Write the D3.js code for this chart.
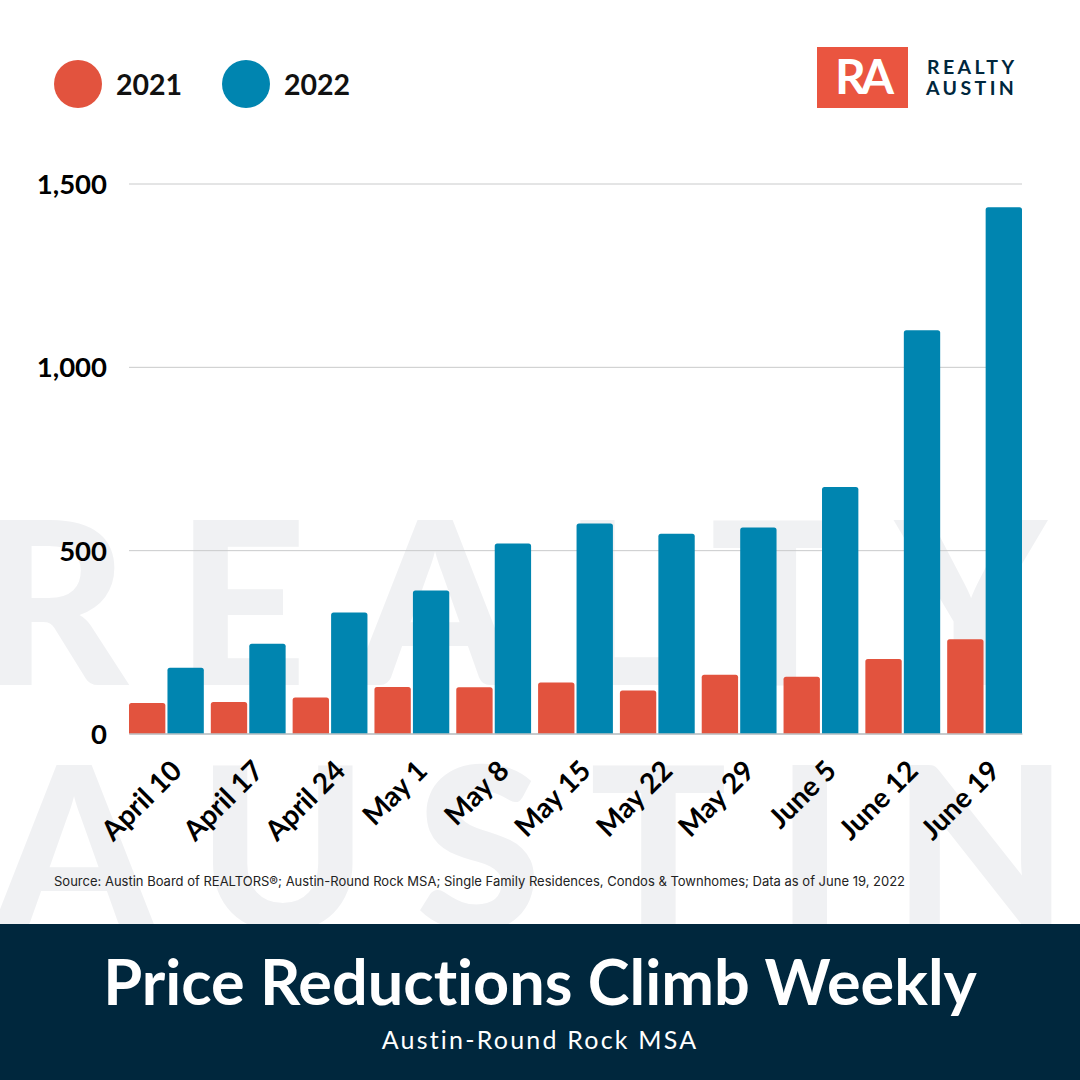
<!DOCTYPE html>
<html>
<head>
<meta charset="utf-8">
<script src="https://d3js.org/d3.v7.min.js"></script>
<style>
  html, body { margin: 0; padding: 0; background: #fff; }
  svg { display: block; }
  text { font-variant-ligatures: none; }
</style>
</head>
<body>
<svg id="chart" width="1080" height="1080"></svg>
<script>
// Data
const weeks = ["April 10", "April 17", "April 24", "May 1", "May 8", "May 15", "May 22", "May 29", "June 5", "June 12", "June 19"];
const years = ["2021", "2022"];
const values2021 = [83, 86, 98, 127, 126, 139, 117, 160, 155, 203, 257];
const values2022 = [179, 245, 330, 390, 518, 573, 545, 562, 672, 1100, 1435];
const yTicks = [0, 500, 1000, 1500];

const RED = "#e2533e";
const BLUE = "#0085b0";
const NAVY = "#00273d";
const WATERMARK = "#f0f1f3";
const colors = [RED, BLUE];

const svg = d3.select("#chart");

////// WATERMARK ///////////
const watermark = svg.append("g")
  .attr("font-family", "Lato")
  .attr("font-size", 228)
  .attr("font-weight", 900)
  .attr("fill", WATERMARK);

watermark.append("text").attr("x", -20).attr("y", 685)
  .attr("letter-spacing", 48).text("REALTY");
watermark.append("text").attr("x", -6).attr("y", 930)
  .attr("letter-spacing", 48).text("AUSTIN");

////// SCALES ///////////
const x = d3.scaleBand().domain(weeks).range([129, 1022]).paddingInner(0.0856);
const xInner = d3.scaleBand().domain(years).range([0, x.bandwidth()]).paddingInner(0.055);
const y = d3.scaleLinear().domain([0, 1500]).range([733.5, 183.5]);

////// Y AXIS + GRID ///////////
const yAxis = svg.append("g")
  .attr("transform", "translate(129,0)")
  .call(d3.axisLeft(y).tickValues(yTicks).tickFormat(d3.format(",")).tickSize(-893).tickPadding(22));
yAxis.select(".domain").remove();
yAxis.selectAll("line").attr("stroke", "#c9cacb").attr("stroke-width", 1);
yAxis.selectAll("text")
  .attr("font-family", "Lato")
  .attr("font-size", 27.5)
  .attr("font-weight", 700)
  .attr("fill", "#000")
  .attr("dy", "0.36em");

////// BARS ///////////
const groups = svg.append("g").selectAll("g")
  .data(weeks)
  .join("g")
  .attr("transform", (d) => `translate(${x(d)},0)`);

[values2021, values2022].forEach((series, s) => {
  groups.append("path")
    .attr("fill", colors[s])
    .attr("d", (d, i) => {
      const x0 = xInner(years[s]);
      const x1 = x0 + xInner.bandwidth();
      const top = y(series[i]);
      const base = y(0);
      const r = 2.5;
      return `M${x0},${base}V${top + r}Q${x0},${top} ${x0 + r},${top}H${x1 - r}Q${x1},${top} ${x1},${top + r}V${base}Z`;
    });
});

////// X AXIS ///////////
const xAxis = svg.append("g")
  .attr("transform", `translate(0,${y(0)})`)
  .call(d3.axisBottom(x).tickSize(0).tickPadding(0));
xAxis.select(".domain").attr("stroke", "#a9b0b5").attr("stroke-width", 1);
xAxis.selectAll("text")
  .attr("font-family", "Lato")
  .attr("font-size", 28)
  .attr("font-weight", 700)
  .attr("fill", "#000")
  .attr("text-anchor", "end")
  .attr("dy", 0)
  .attr("transform", "translate(17,39) rotate(-45)");

////// LEGEND ///////////
const legend = svg.append("g").selectAll("g")
  .data(years)
  .join("g")
  .attr("transform", (d, i) => `translate(${78 + i * 168},84)`);
legend.append("circle").attr("r", 24).attr("fill", (d, i) => colors[i]);
legend.append("text")
  .attr("x", 38)
  .attr("y", 11)
  .attr("font-family", "Lato")
  .attr("font-size", 28.5)
  .attr("font-weight", 700)
  .attr("fill", "#111")
  .text((d) => d);

////// LOGO ///////////
svg.append("rect").attr("x", 817).attr("y", 47).attr("width", 91).attr("height", 61).attr("fill", "#ea5540");
svg.append("text")
  .attr("x", 862).attr("y", 94)
  .attr("text-anchor", "middle")
  .attr("font-family", "Lato")
  .attr("font-size", 48)
  .attr("font-weight", 700)
  .attr("letter-spacing", -5)
  .attr("fill", "#fff")
  .text("RA");
const logoText = svg.append("g")
  .attr("font-family", "Lato")
  .attr("font-size", 19.5)
  .attr("font-weight", 700)
  .attr("letter-spacing", 3.4)
  .attr("fill", NAVY);
logoText.append("text").attr("x", 927).attr("y", 74).text("REALTY");
logoText.append("text").attr("x", 926).attr("y", 95).text("AUSTIN");

////// SOURCE ///////////
svg.append("text")
  .attr("x", 54).attr("y", 886)
  .attr("font-family", "Inter")
  .attr("font-size", 13)
  .attr("fill", "#222")
  .text("Source: Austin Board of REALTORS®; Austin-Round Rock MSA; Single Family Residences, Condos & Townhomes; Data as of June 19, 2022");

////// TITLE BAND ///////////
svg.append("rect").attr("x", 0).attr("y", 924).attr("width", 1080).attr("height", 156).attr("fill", NAVY);
svg.append("text")
  .attr("x", 540).attr("y", 1005)
  .attr("text-anchor", "middle")
  .attr("font-family", "Lato")
  .attr("font-size", 63)
  .attr("font-weight", 700)
  .attr("fill", "#fff")
  .text("Price Reductions Climb Weekly");
svg.append("text")
  .attr("x", 540).attr("y", 1049)
  .attr("text-anchor", "middle")
  .attr("font-family", "Lato")
  .attr("font-size", 25)
  .attr("letter-spacing", 2.2)
  .attr("fill", "#fff")
  .text("Austin-Round Rock MSA");
</script>
</body>
</html>
